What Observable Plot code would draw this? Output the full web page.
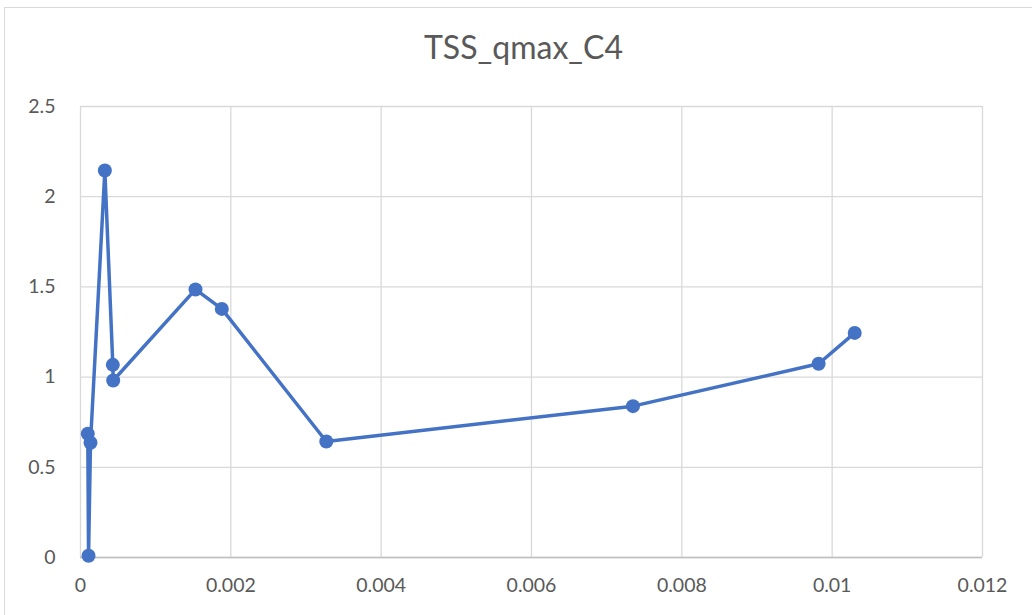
<!DOCTYPE html>
<html>
<head>
<meta charset="utf-8">
<script src="https://cdn.jsdelivr.net/npm/d3@7"></script>
<script src="https://cdn.jsdelivr.net/npm/@observablehq/plot@0.6"></script>
<style>
  html, body { margin: 0; padding: 0; background: #fff; overflow: hidden; }
  #wrap { position: relative; width: 1032px; height: 615px; overflow: hidden; }
  #border { position: absolute; left: 4px; top: 7px; width: 1040px; height: 620px; border: 1px solid #d9d9d9; box-sizing: border-box; }
  #chart { position: absolute; left: 0; top: 0; }
</style>
</head>
<body>
<div id="wrap">
  <div id="border"></div>
  <div id="chart"></div>
</div>
<script>
const title = "TSS_qmax_C4";
const xValues = [0.000097, 0.000107, 0.000133, 0.000324, 0.00043, 0.000435, 0.00153, 0.00188, 0.00327, 0.00735, 0.00982, 0.0103];
const yValues = [0.686, 0.01, 0.636, 2.145, 1.068, 0.981, 1.486, 1.378, 0.643, 0.839, 1.074, 1.245];
const xTicks = [0, 0.002, 0.004, 0.006, 0.008, 0.01, 0.012];
const yTicks = [0, 0.5, 1, 1.5, 2, 2.5];

const data = xValues.map((x, i) => ({x, y: yValues[i], i}));
const color = "#4472C4";
const font = "Lato, 'Open Sans', sans-serif";

const chart = Plot.plot({
  width: 1032,
  height: 615,
  marginLeft: 80,
  marginRight: 50,
  marginTop: 106,
  marginBottom: 58,
  style: {fontFamily: font, fontSize: "19.5px", color: "#595959", background: "transparent", overflow: "visible"},
  x: {domain: [0, 0.012], ticks: xTicks, tickFormat: d => String(+d.toFixed(3)), tickSize: 0, tickPadding: 21, label: null},
  y: {domain: [0, 2.5], ticks: yTicks, tickFormat: d => String(d), tickSize: 0, tickPadding: 25, label: null},
  marks: [
    Plot.gridX(xTicks, {stroke: "#d9d9d9", strokeOpacity: 1, strokeWidth: 1.3}),
    Plot.gridY(yTicks, {stroke: "#d9d9d9", strokeOpacity: 1, strokeWidth: 1.3}),
    Plot.ruleY([0], {stroke: "#bfbfbf", strokeWidth: 1.3}),
    Plot.axisX({ticks: xTicks, tickFormat: d => String(+d.toFixed(3)), tickSize: 0, tickPadding: 21, fill: "#595959"}),
    Plot.axisY({ticks: yTicks, tickFormat: d => String(d), tickSize: 0, tickPadding: 25, fill: "#595959"}),
    Plot.line(data, {x: "x", y: "y", sort: "i", stroke: color, strokeWidth: 3.5, curve: "linear"}),
    Plot.dot(data, {x: "x", y: "y", r: 7, fill: color, stroke: "none"}),
    Plot.text([title], {frameAnchor: "top", dy: -58, dx: -8, text: d => d, fontSize: 32, fill: "#595959", lineAnchor: "middle", fontFamily: font})
  ]
});
document.getElementById("chart").appendChild(chart);
</script>
</body>
</html>
